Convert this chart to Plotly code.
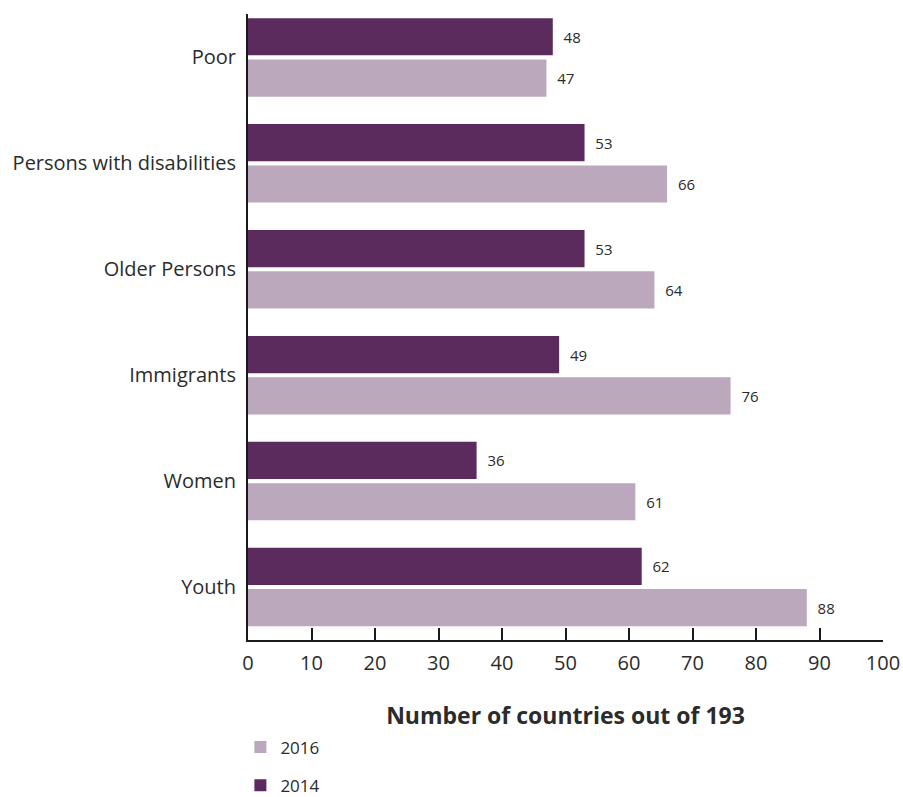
import plotly.graph_objects as go

# Groups shown top to bottom: Poor ... Youth (Youth sits at the bottom)
categories = ["Youth", "Women", "Immigrants", "Older Persons",
              "Persons with disabilities", "Poor"]
values_2016 = [88, 61, 76, 64, 66, 47]
values_2014 = [62, 36, 49, 53, 53, 48]
x_ticks = [0, 10, 20, 30, 40, 50, 60, 70, 80, 90, 100]

FONT = "Open Sans, Noto Sans, sans-serif"
TEXT = "#2b2b2b"

fig = go.Figure()
fig.add_trace(go.Bar(
    y=categories, x=values_2016, name="2016", orientation="h",
    marker=dict(color="#BBA8BC", line=dict(width=0)),
    text=values_2016, texttemplate="  %{text}", textposition="outside",
    cliponaxis=False,
    textfont=dict(size=15, color=TEXT, family=FONT),
    legendgroup="a",
))
fig.add_trace(go.Bar(
    y=categories, x=values_2014, name="2014", orientation="h",
    marker=dict(color="#5C2B5E", line=dict(width=0)),
    text=values_2014, texttemplate="  %{text}", textposition="outside",
    cliponaxis=False,
    textfont=dict(size=15, color=TEXT, family=FONT),
    legendgroup="b",
))

fig.update_layout(
    width=903, height=797,
    margin=dict(l=248, r=20, t=14, b=157, autoexpand=False),
    paper_bgcolor="white", plot_bgcolor="white",
    barmode="group", bargap=0.22, bargroupgap=0.1,
    font=dict(family=FONT, color=TEXT),
    showlegend=True,
    legend=dict(
        x=-0.012, y=-0.143, xanchor="left", yanchor="top",
        traceorder="grouped", tracegroupgap=13,
        font=dict(size=17, color=TEXT, family=FONT),
        itemwidth=30, bgcolor="rgba(0,0,0,0)",
    ),
)

fig.update_xaxes(
    range=[0, 100], tickvals=x_ticks, ticktext=[str(v) for v in x_ticks],
    automargin=False,
    showgrid=False, zeroline=False,
    showline=True, linecolor="#1a1a1a", linewidth=2,
    ticks="inside", ticklen=12, tickwidth=2, tickcolor="#1a1a1a",
    ticklabelstandoff=4,
    tickfont=dict(size=20, color=TEXT, family=FONT),
    title=dict(text="<b>Number of countries out of 193</b>",
               font=dict(size=23, color=TEXT, family=FONT), standoff=33),
)
fig.update_yaxes(
    type="category", categoryorder="array", categoryarray=categories,
    range=[-0.5, 5.41], automargin=False,
    showgrid=False, zeroline=False,
    showline=True, linecolor="#1a1a1a", linewidth=2,
    ticks="", ticklabelstandoff=6,
    tickfont=dict(size=20, color=TEXT, family=FONT),
)

fig.write_html("out.html")
